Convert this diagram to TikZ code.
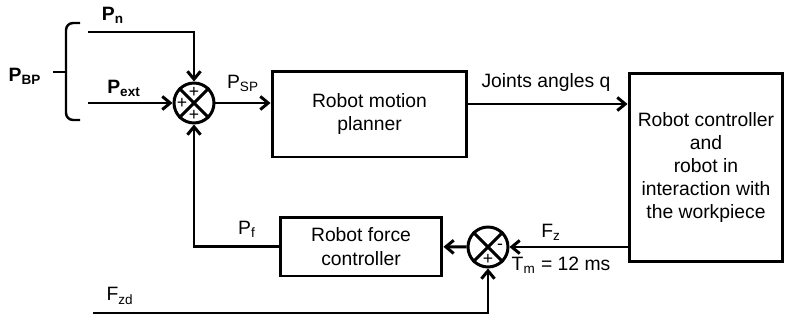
\documentclass[tikz,border=0pt]{standalone}
\usepackage{fontspec}
\setmainfont{Liberation Sans}
\usetikzlibrary{shapes, arrows.meta, positioning, calc}

\begin{document}
\begin{tikzpicture} [x = 0.02cm, y = -0.02cm, -> , >= {Straight Barb[length = 4.5pt, width = 7.5pt]}, line width = 1.7pt, font = \fontsize{11}{13.2}\selectfont,
  blk/.style = {draw, align = center, inner sep = 0pt},
  sum/.style = {draw, circle, minimum size = 0.8cm, inner sep = 0pt},
  sgn/.style = {font = \fontsize{10}{10}\selectfont, inner sep = 0pt}]

\useasboundingbox (0,0) rectangle (785,325);

\node [sum] (sum1) at (194,103) {};
\node [sum] (sum2) at (488,247) {};
\draw [-] (sum1.north west) -- (sum1.south east);
\draw [-] (sum1.north east) -- (sum1.south west);
\draw [-] (sum2.north west) -- (sum2.south east);
\draw [-] (sum2.north east) -- (sum2.south west);
\node [sgn] at ($(sum1)+(0,-11)$) {+};
\node [sgn] at ($(sum1)+(-12,0)$) {+};
\node [sgn] at ($(sum1)+(0,12)$) {+};
\node [sgn] at ($(sum2)+(12,0)$) {-};
\node [sgn] at ($(sum2)+(0,12)$) {+};

\node [blk, minimum width = 3.9cm, minimum height = 1.72cm] (planner) at (369.5,114) {Robot motion\\planner};
\node [blk, minimum width = 3.08cm, minimum height = 3.78cm] (robot) at (706,167.5) {Robot controller\\and\\robot in\\interaction with\\the workpiece};
\node [blk, minimum width = 3.24cm, minimum height = 1.18cm] (force) at (361,246.5) {Robot force\\controller};

\coordinate (pn) at (88,32);
\coordinate (pext) at (88,103);
\coordinate (fzd) at (93,313);

\draw (pn) -| (sum1);
\draw (pext) -- (sum1);
\draw (sum1) -- (sum1 -| planner.west);
\draw ([yshift = 0.2cm] planner.east) -- ([yshift = 0.2cm] planner.east -| robot.west);
\draw (robot.west |- sum2) -- (sum2);
\draw (sum2) -- (force);
\draw (force.west) -| (sum1);
\draw (fzd) -| (sum2);

% brace
\draw [-, line width = 1.4pt, rounded corners = 4pt] (80,23) -- (66,23) -- (66,120) -- (80,120);
\draw [-, line width = 1.4pt] (66,72) -- (53,72);

\node (pbp) at (25,76) {\textbf{P}\textsubscript{\textbf{BP}}};
\node (pnl) at (113,15) {\textbf{P}\textsubscript{\textbf{n}}};
\node (pextl) at (124,88) {\textbf{P}\textsubscript{\textbf{ext}}};
\node (psp) at (243,83) {P\textsubscript{SP}};
\node (ql) at (546,83) {Joints angles q};
\node (pf) at (247,229) {P\textsubscript{f}};
\node (fz) at (551,232) {F\textsubscript{z}};
\node (tm) at (561,265) {T\textsubscript{m} = 12 ms};
\node (fzdl) at (120,296) {F\textsubscript{zd}};

\end{tikzpicture}
\end{document}
